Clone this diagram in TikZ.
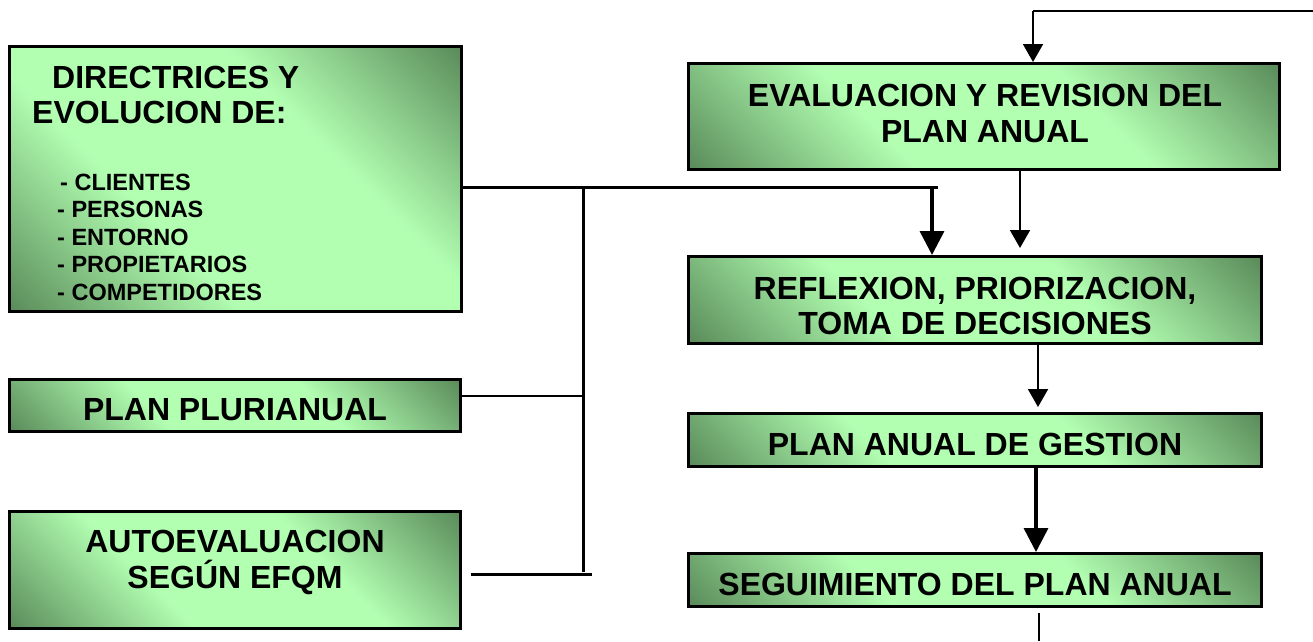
\documentclass[tikz,border=0pt]{standalone}
\usepackage{fontspec}
\setmainfont{Liberation Sans}
\usetikzlibrary{arrows.meta,calc}
\definecolor{dk}{RGB}{80,126,80}
\definecolor{lt}{RGB}{178,255,178}
\pgfdeclareverticalshading{boxshade}{100bp}{color(0bp)=(dk); color(12bp)=(dk); color(38bp)=(lt); color(62bp)=(lt); color(88bp)=(dk); color(100bp)=(dk)}
\tikzset{
  box/.style={draw=black, line width=3pt, shading=boxshade, shading angle=-45, inner sep=0pt},
  big/.style={font=\bfseries\fontsize{32}{36}\selectfont, inner sep=0pt, anchor=base},
  bigw/.style={font=\bfseries\fontsize{32}{36}\selectfont, inner sep=0pt, anchor=base west},
  item/.style={font=\bfseries\fontsize{23.5}{27}\selectfont, inner sep=0pt, anchor=base west},
  thinline/.style={line width=2pt, draw=black},
  thickline/.style={line width=3pt, draw=black},
  thinarr/.style={thinline, -{Triangle[width=20pt,length=18pt]}},
  thickarr/.style={line width=3.5pt, draw=black, -{Triangle[width=24pt,length=24pt]}}
}
\begin{document}
\begin{tikzpicture}[x=1pt,y=-1pt]
\useasboundingbox (0,0) rectangle (1313,641);
% boxes
\node[box, minimum width=452pt, minimum height=265pt] (D) at (235.5,179) {};
\node[box, minimum width=451pt, minimum height=52pt] (PP) at (235,405.5) {};
\node[box, minimum width=451pt, minimum height=117pt] (AE) at (235,570) {};
\node[box, minimum width=591pt, minimum height=106pt] (EV) at (984,116.5) {};
\node[box, minimum width=573pt, minimum height=87pt] (RF) at (975,300) {};
\node[box, minimum width=573pt, minimum height=53pt] (PA) at (975,440) {};
\node[box, minimum width=573pt, minimum height=53pt] (SG) at (975,580) {};
% texts
\node[bigw] (d1) at (52,88) {DIRECTRICES Y};
\node[bigw] (d2) at (32,123) {EVOLUCION DE:};
\node[item] (i1) at (60,190) {- CLIENTES};
\node[item] (i2) at (57,217.5) {- PERSONAS};
\node[item] (i3) at (57,245) {- ENTORNO};
\node[item] (i4) at (57,272.5) {- PROPIETARIOS};
\node[item] (i5) at (57,300) {- COMPETIDORES};
\node[big] (tpp) at (235,420) {PLAN PLURIANUAL};
\node[big] (tae1) at (235,552) {AUTOEVALUACION};
\node[big] (tae2) at (235,588) {SEGÚN EFQM};
\node[big] (tev1) at (985,106) {EVALUACION Y REVISION DEL};
\node[big] (tev2) at (985,142) {PLAN ANUAL};
\node[big] (trf1) at (975,299) {REFLEXION, PRIORIZACION,};
\node[big] (trf2) at (975,334) {TOMA DE DECISIONES};
\node[big] (tpa) at (975,455) {PLAN ANUAL DE GESTION};
\node[big] (tsg) at (975,595) {SEGUIMIENTO DEL PLAN ANUAL};
% coordinates
\coordinate (fbR) at (1313,11);
\coordinate (fbC) at (1033,11);
\coordinate (j1) at (583,187);
\coordinate (j2) at (938,187);
\coordinate (jA) at (932,187);
\coordinate (j3) at (583,572);
\coordinate (jP) at (583,396);
\coordinate (aeR) at (592,574);
\coordinate (evx) at (1020,0);
\coordinate (rfx) at (1038,0);
\coordinate (pax) at (1036,0);
\coordinate (sgx) at (1039,641);
% connectors
\draw[thinline] (fbR) -- (fbC);
\draw[thinarr] (fbC) -- (fbC |- EV.north);
\draw[thinarr, shorten >=7pt] (evx |- EV.south) -- (evx |- RF.north);
\draw[thickline] (D.east |- j1) -- (j2);
\draw[thickarr] (jA) -- (jA |- RF.north);
\draw[thickline] (j1) -- (j3);
\draw[thinline] (PP.east |- jP) -- (jP);
\draw[thickline] ([xshift=9pt]AE.east |- aeR) -- (aeR);
\draw[thinarr, shorten >=5pt] (rfx |- RF.south) -- (rfx |- PA.north);
\draw[thickarr] (pax |- PA.south) -- (pax |- SG.north);
\draw[thinline, shorten <=5pt] (sgx |- SG.south) -- (sgx);
\end{tikzpicture}
\end{document}
